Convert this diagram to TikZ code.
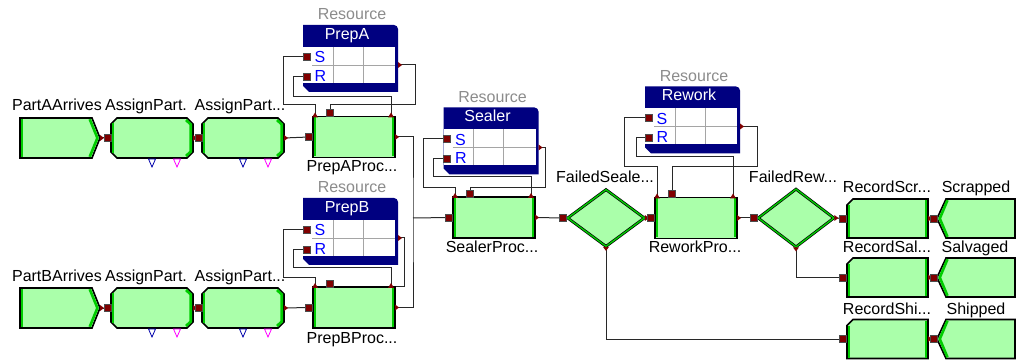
\documentclass[tikz,border=0pt]{standalone}
\usepackage{fontspec}
\setmainfont{Liberation Sans}
\usetikzlibrary{calc,shapes.geometric}

\definecolor{blkfill}{RGB}{170,255,170}
\definecolor{bandgreen}{RGB}{0,205,0}
\definecolor{portred}{RGB}{128,0,0}
\definecolor{resblue}{RGB}{0,0,128}
\definecolor{reslabel}{RGB}{140,140,140}
\definecolor{srblue}{RGB}{0,0,255}
\definecolor{gridgray}{RGB}{165,165,165}
\definecolor{wirec}{RGB}{40,40,40}
\definecolor{trblue}{RGB}{0,0,170}
\definecolor{trpink}{RGB}{255,0,255}

\pgfdeclarelayer{bg}
\pgfdeclarelayer{wires}
\pgfsetlayers{bg,wires,main}

\tikzset{
  blk/.style={fill=blkfill, draw=black, line width=1.6pt, line join=miter},
  gband/.style={draw=bandgreen, line width=2.6pt},
  hold/.style={rectangle, inner sep=0pt, outer sep=0pt},
  ent/.style={hold, minimum width=80pt, minimum height=40pt},
  proc/.style={blk, hold, minimum width=82pt, minimum height=41pt},
  rec/.style={hold, minimum width=81pt, minimum height=39pt},
  resnode/.style={hold, minimum width=95pt, minimum height=67pt},
  decide/.style={diamond, aspect=1.35, minimum width=77pt, minimum height=57pt,
    inner sep=0pt, fill=blkfill, draw=black, line width=0.7pt,
    double=bandgreen, double distance=1.4pt},
  wire/.style={draw=wirec, line width=1pt},
  lbl/.style={font=\fontsize{16}{18}\selectfont, anchor=base, inner sep=0pt},
  reslbl/.style={lbl, text=reslabel},
}

% ports
\newcommand{\portsq}[1]{\filldraw[fill=portred, draw=black!70, line width=0.4pt] ($(#1)+(-3.5,-3.5)$) rectangle ($(#1)+(3.5,3.5)$);}
\newcommand{\porttri}[1]{\fill[portred] ($(#1)+(0,-3)$) -- ($(#1)+(4,0)$) -- ($(#1)+(0,3)$) -- cycle;}
\newcommand{\porttop}[1]{\fill[portred] ($(#1)+(-3,2)$) -- ($(#1)+(0,-3)$) -- ($(#1)+(3,2)$) -- cycle;}
\newcommand{\portdown}[1]{\fill[portred] ($(#1)+(-3,0)$) -- ($(#1)+(3,0)$) -- ($(#1)+(0,4)$) -- cycle;}

% block shapes drawn round a holder node
\newcommand{\createshape}[1]{%
  \draw[blk] (#1.north west) -- ($(#1.north east)+(-8,0)$) -- (#1.east) -- ($(#1.south east)+(-8,0)$) -- (#1.south west) -- cycle;
  \draw[gband] ($(#1.north west)+(2.1,1)$) -- ($(#1.south west)+(2.1,-1)$);
  \draw[gband] ($(#1.north east)+(-10.3,1.2)$) -- ($(#1.east)+(-2.6,0)$) -- ($(#1.south east)+(-10.3,-1.2)$);
  \coordinate (#1-out) at (#1.east);
  \porttri{#1-out}}

\newcommand{\assignshape}[1]{%
  \draw[blk] ($(#1.north west)+(6,0)$) -- ($(#1.north east)+(-6,0)$) -- ($(#1.north east)+(0,6)$) -- ($(#1.south east)+(0,-6)$) -- ($(#1.south east)+(-6,0)$) -- ($(#1.south west)+(6,0)$) -- ($(#1.south west)+(0,-6)$) -- ($(#1.north west)+(0,6)$) -- cycle;
  \draw[gband] ($(#1.north west)+(2.1,5)$) -- ($(#1.south west)+(2.1,-5)$);
  \draw[gband] ($(#1.north east)+(-7,2)$) -- ($(#1.north east)+(-2.3,6.5)$) -- ($(#1.south east)+(-2.3,-6.5)$) -- ($(#1.south east)+(-7,-2)$);
  \draw[trblue, line width=0.8pt] ($(#1.south)+(-3.5,1)$) -- ($(#1.south)+(3.5,1)$) -- ($(#1.south)+(0,9)$) -- cycle;
  \draw[trpink, line width=0.8pt] ($(#1.south)+(21.5,1)$) -- ($(#1.south)+(28.5,1)$) -- ($(#1.south)+(25,9)$) -- cycle;
  \coordinate (#1-in) at ($(#1.west)+(-3,0)$);
  \coordinate (#1-out) at (#1.east);
  \porttri{#1-out}\portsq{#1-in}}

\newcommand{\procdeco}[1]{%
  \draw[gband] ($(#1.north west)+(2.1,1)$) -- ($(#1.south west)+(2.1,-1)$);
  \draw[gband] ($(#1.north east)+(-2.1,1)$) -- ($(#1.south east)+(-2.1,-1)$);
  \coordinate (#1-in) at ($(#1.west)+(-4,0)$);
  \coordinate (#1-out) at (#1.east);
  \coordinate (#1-tl) at ($(#1.north west)+(2,-1)$);
  \coordinate (#1-tr) at ($(#1.north east)+(-4,-1)$);
  \coordinate (#1-tm) at ($(#1.north west)+(17,-3.5)$);
  \portsq{#1-in}\porttri{#1-out}\porttop{#1-tl}\porttop{#1-tr}\portsq{#1-tm}}

\newcommand{\recordshape}[1]{%
  \draw[blk] ($(#1.north west)+(6,0)$) -- (#1.north east) -- (#1.south east) -- (#1.south west) -- ($(#1.north west)+(0,6)$) -- cycle;
  \draw[gband] ($(#1.north west)+(2.1,6)$) -- ($(#1.south west)+(2.1,-1)$);
  \draw[gband] ($(#1.north east)+(-2.1,1)$) -- ($(#1.south east)+(-2.1,-1)$);
  \coordinate (#1-in) at ($(#1.west)+(-4,0)$);
  \coordinate (#1-out) at (#1.east);
  \porttri{#1-out}\portsq{#1-in}}

\newcommand{\disposeshape}[1]{%
  \draw[blk] ($(#1.north west)+(9,0)$) -- (#1.north east) -- (#1.south east) -- ($(#1.south west)+(9,0)$) -- (#1.west) -- cycle;
  \draw[gband] ($(#1.north west)+(10.5,1.2)$) -- ($(#1.west)+(2.8,0)$) -- ($(#1.south west)+(10.5,-1.2)$);
  \coordinate (#1-in) at ($(#1.west)+(-3.5,0)$);
  \portsq{#1-in}}

\newcommand{\decideports}[1]{%
  \coordinate (#1-in) at ($(#1.west)+(-4,0)$);
  \portsq{#1-in}\porttri{#1.east}\portdown{#1.south}}

% resource box: #1 holder, #2 header text
\newcommand{\resbox}[2]{%
  \fill[resblue] (#1.north west) -- ($(#1.north east)+(-4,0)$) arc[start angle=-90, end angle=0, radius=4] -- (#1.south east) -- ($(#1.south west)+(6,0)$) -- ($(#1.south west)+(0,-6)$) -- cycle;
  \fill[white] ($(#1.north west)+(0,22)$) rectangle ($(#1.north east)+(-3,58)$);
  \draw[gridgray, line width=0.8pt] ($(#1.north west)+(9,40)$) -- ($(#1.north east)+(-3,40)$);
  \draw[gridgray, line width=0.8pt] ($(#1.north west)+(30,22)$) -- ($(#1.north west)+(30,58)$);
  \draw[gridgray, line width=0.8pt] ($(#1.north west)+(60,22)$) -- ($(#1.north west)+(60,58)$);
  \node[lbl, text=white] (#1-hdr) at ($(#1.north west)+(44,14.5)$) {#2};
  \node[lbl, anchor=base west, text=srblue] (#1-S) at ($(#1.north west)+(11.5,38)$) {S};
  \node[lbl, anchor=base west, text=srblue] (#1-R) at ($(#1.north west)+(11.5,56.5)$) {R};
  \node[reslbl] (#1-lbl) at ($(#1.north)+(1.5,-5)$) {Resource};
  \coordinate (#1-s) at ($(#1.north west)+(0,31.5)$);
  \coordinate (#1-r) at ($(#1.north west)+(0,51.5)$);
  \coordinate (#1-out) at ($(#1.north east)+(0,40)$);
  \portsq{$(#1.north west)+(3.5,31.5)$}\portsq{$(#1.north west)+(3.5,51.5)$}\porttri{#1-out}}

\begin{document}
\begin{tikzpicture}[x=1pt,y=-1pt]
\useasboundingbox (0,0) rectangle (1017,363);
\begin{pgfonlayer}{bg}
\fill[white] (0,0) rectangle (1017,363);
\end{pgfonlayer}

% part A line
\node[ent] (partA) at (60,138) {};
\node[ent, minimum width=82pt] (asgA1) at (152,138) {};
\node[ent, minimum width=82pt] (asgA2) at (243,138) {};
\createshape{partA}
\assignshape{asgA1}
\assignshape{asgA2}
\node[proc] (prepA) at (354,137) {};
\procdeco{prepA}
\node[lbl] (lPartA) at (57,111) {PartAArrives};
\node[lbl] (lAsgA1) at (146,111) {AssignPart.};
\node[lbl] (lAsgA2) at (240,111) {AssignPart...};
\node[lbl] (lPrepA) at (352,172) {PrepAProc...};

% part B line
\node[ent] (partB) at (60,308) {};
\node[ent, minimum width=82pt] (asgB1) at (152,308) {};
\node[ent, minimum width=82pt] (asgB2) at (243,308) {};
\createshape{partB}
\assignshape{asgB1}
\assignshape{asgB2}
\node[proc] (prepB) at (354,307.5) {};
\procdeco{prepB}
\node[lbl] (lPartB) at (57,282) {PartBArrives};
\node[lbl] (lAsgB1) at (146,282) {AssignPart.};
\node[lbl] (lAsgB2) at (240,282) {AssignPart...};
\node[lbl] (lPrepB) at (352,343) {PrepBProc...};

% resources
\node[resnode] (resA) at (350.5,58.5) {};
\resbox{resA}{PrepA}
\node[resnode] (resB) at (350.5,231.5) {};
\resbox{resB}{PrepB}
\node[resnode] (resS) at (491,141) {};
\resbox{resS}{Sealer}
\node[resnode] (resR) at (692.5,120) {};
\resbox{resR}{Rework}

% sealer and rework
\node[proc] (sealer) at (494,217.5) {};
\procdeco{sealer}
\node[lbl] (lSealer) at (492,253) {SealerProc...};
\node[decide] (failSeal) at (606,218) {};
\decideports{failSeal}
\node[lbl] (lFailSeal) at (605,183) {FailedSeale...};
\node[proc] (rework) at (696,218) {};
\procdeco{rework}
\node[lbl] (lRework) at (695,253) {ReworkPro...};
\node[decide, minimum width=76pt, minimum height=58pt] (failRew) at (796,218) {};
\decideports{failRew}
\node[lbl] (lFailRew) at (793,183) {FailedRew...};

% records and disposes
\node[rec] (recScr) at (887.5,218.5) {};
\node[rec] (recSal) at (887.5,277.5) {};
\node[rec] (recShi) at (887.5,339) {};
\recordshape{recScr}
\recordshape{recSal}
\recordshape{recShi}
\node[rec, minimum width=78pt] (scrap) at (976,218.5) {};
\node[rec, minimum width=78pt] (salv) at (976,277.5) {};
\node[rec, minimum width=78pt] (ship) at (976,339) {};
\disposeshape{scrap}
\disposeshape{salv}
\disposeshape{ship}
\node[lbl] (lRecScr) at (887,193) {RecordScr...};
\node[lbl] (lScrap) at (976,193) {Scrapped};
\node[lbl] (lRecSal) at (887,253) {RecordSal...};
\node[lbl] (lSalv) at (975,253) {Salvaged};
\node[lbl] (lRecShi) at (887,314) {RecordShi...};
\node[lbl] (lShip) at (976,314) {Shipped};

\coordinate (merge) at (413,218);

\begin{pgfonlayer}{wires}
% flow
\draw[wire] (partA-out) -- (asgA1-in);
\draw[wire] (asgA2-out) -- (prepA-in);
\draw[wire] (partB-out) -- (asgB1-in);
\draw[wire] (asgB2-out) -- (prepB-in);
\draw[wire] (prepA-out) -| (merge) |- (prepB-out);
\draw[wire] (merge) -- (sealer-in);
\draw[wire] (sealer-out) -- (failSeal-in);
\draw[wire] (failSeal.east) -- (rework-in);
\draw[wire] (rework-out) -- (failRew-in);
\draw[wire] (failRew.east) -- (recScr-in);
\draw[wire] (failRew.south) |- (recSal-in);
\draw[wire] (failSeal.south) |- (recShi-in);
\draw[wire] (recScr-out) -- (scrap-in);
\draw[wire] (recSal-out) -- (salv-in);
\draw[wire] (recShi-out) -- (ship-in);
% seize / release links
\draw[wire] (resA-s) -| (283,105) -| (prepA-tl);
\draw[wire] (resA-r) -| (293,97) -| (prepA-tr);
\draw[wire] (resA-out) -| (415,105) -| (prepA-tm);
\draw[wire] (resB-s) -| (283,278) -| (prepB-tl);
\draw[wire] (resB-r) -| (293,268) -| (prepB-tr);
\draw[wire] (resB-out) -| (404,287) -| (prepB-tr);
\draw[wire] (resS-s) -| (423,188) -| (sealer-tl);
\draw[wire] (resS-r) -| (433,177) -| (sealer-tr);
\draw[wire] (resS-out) -| (545,188) -| (sealer-tm);
\draw[wire] (resR-s) -| (624,167) -| (rework-tl);
\draw[wire] (resR-r) -| (636,157) -| (rework-tr);
\draw[wire] (resR-out) -| (757,167) -| (rework-tm);
\end{pgfonlayer}
\end{tikzpicture}
\end{document}
